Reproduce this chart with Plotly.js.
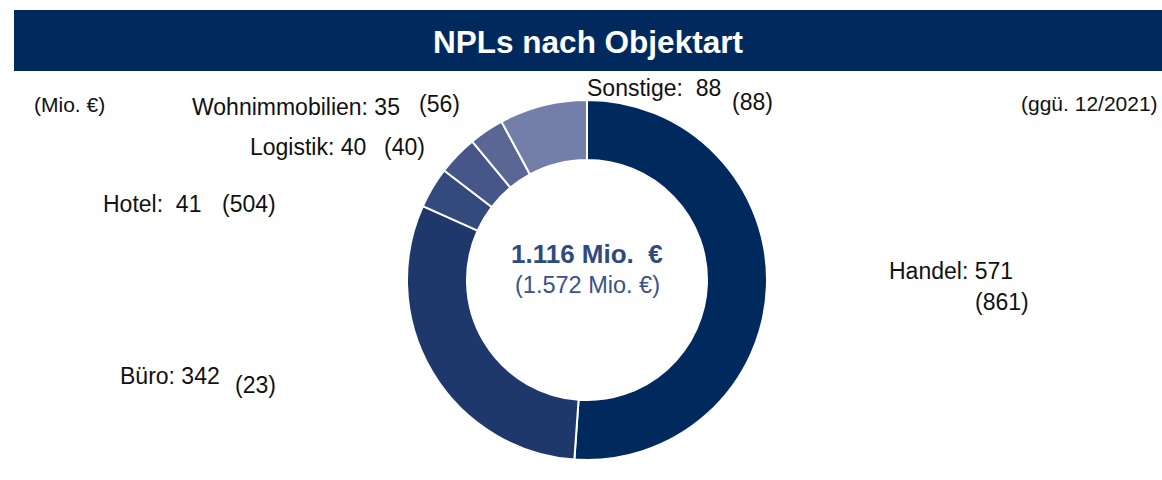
<!DOCTYPE html>
<html>
<head>
<meta charset="utf-8">
<script src="https://cdn.plot.ly/plotly-3.0.1.min.js"></script>
<style>html,body{margin:0;padding:0;background:#fff;}#chart{width:1162px;height:480px;}</style>
</head>
<body>
<div id="chart"></div>
<script>
// ---- data ----
const categories = ['Handel', 'Büro', 'Hotel', 'Logistik', 'Wohnimmobilien', 'Sonstige'];
const values = [571, 342, 41, 40, 35, 88];
const previousValues = [861, 23, 504, 40, 56, 88];
const totalText = '1.116 Mio.  €';
const previousTotalText = '(1.572 Mio. €)';
const unitNote = '(Mio. €)';
const compareNote = '(ggü. 12/2021)';
const chartTitle = 'NPLs nach Objektart';

// ---- style ----
const colors = ['#002A5E', '#1F386C', '#34497C', '#465689', '#5A6694', '#737FA9'];
const W = 1162, H = 480;
const cx = 587, cy = 280, R = 180;
const FONT = 'Liberation Sans, Arial, sans-serif';
// label placements in pixels: [labelX, labelY, prevX, prevY]
const labelPos = [
  [887, 271, 973, 302],
  [118, 376, 233, 385],
  [101, 204, 220, 204],
  [248, 147, 382, 147],
  [190, 107, 417, 104],
  [585, 88, 730, 102]
];
const sep = ['', '', '  ', '', '', '  '];

const px = x => x / W;
const py = y => 1 - y / H;

const annotations = [];
categories.forEach((c, i) => {
  const p = labelPos[i];
  annotations.push({xref:'paper', yref:'paper', x:px(p[0]), y:py(p[1]), xanchor:'left', yanchor:'middle',
    text: c + ':' + (sep[i] || ' ') + values[i], showarrow:false, font:{family:FONT, size:23, color:'#111'}});
  annotations.push({xref:'paper', yref:'paper', x:px(p[2]), y:py(p[3]), xanchor:'left', yanchor:'middle',
    text: '(' + previousValues[i] + ')', showarrow:false, font:{family:FONT, size:23, color:'#111'}});
});
annotations.push({xref:'paper', yref:'paper', x:px(cx), y:py(254), xanchor:'center', yanchor:'middle',
  text:'<b>' + totalText + '</b>', showarrow:false, font:{family:FONT, size:26, color:'#2F4A80'}});
annotations.push({xref:'paper', yref:'paper', x:px(cx), y:py(285), xanchor:'center', yanchor:'middle',
  text: previousTotalText, showarrow:false, font:{family:FONT, size:23.5, color:'#3A5288'}});
annotations.push({xref:'paper', yref:'paper', x:px(32), y:py(104), xanchor:'left', yanchor:'middle',
  text: unitNote, showarrow:false, font:{family:FONT, size:21, color:'#111'}});
annotations.push({xref:'paper', yref:'paper', x:px(1160), y:py(103), xanchor:'right', yanchor:'middle',
  text: compareNote, showarrow:false, font:{family:FONT, size:21, color:'#111'}});

const trace = {
  type:'pie', labels:categories, values:values, hole:120/180, sort:false, direction:'clockwise', rotation:0,
  marker:{colors:colors, line:{color:'#ffffff', width:2}}, textinfo:'none', hoverinfo:'label+value',
  domain:{x:[px(cx - R), px(cx + R)], y:[py(cy + R), py(cy - R)]}, showlegend:false
};

const layout = {
  width:W, height:H, margin:{l:0, r:0, t:0, b:0}, paper_bgcolor:'#fff', plot_bgcolor:'#fff',
  showlegend:false,
  title:{text:'<b>' + chartTitle + '</b>', x:px(588), xref:'paper', y:py(42), yref:'paper', xanchor:'center', yanchor:'middle',
    font:{family:FONT, size:31.5, color:'#ffffff'}},
  shapes:[{type:'rect', xref:'paper', yref:'paper', x0:px(14), x1:1, y0:py(71), y1:py(10), fillcolor:'#002A5E', line:{width:0}, layer:'below'}],
  annotations:annotations
};

Plotly.newPlot('chart', [trace], layout, {displayModeBar:false, staticPlot:true});
</script>
</body>
</html>
